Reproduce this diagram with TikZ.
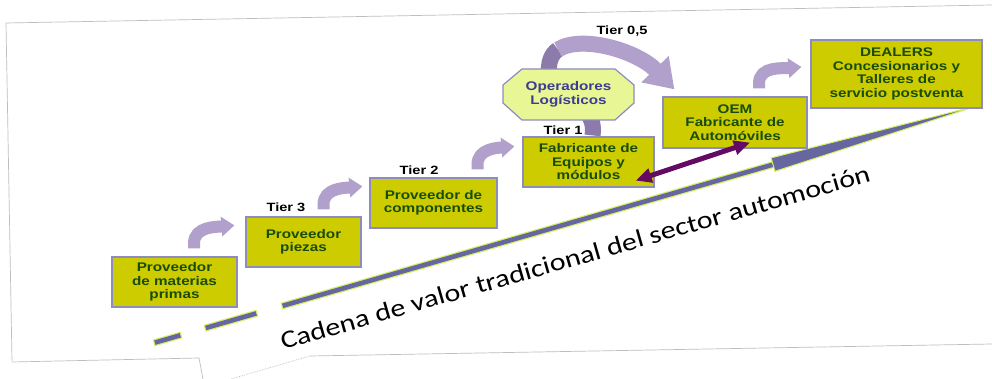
\documentclass[tikz,border=0pt]{standalone}
\usepackage{fontspec}
\usepackage{tikz}
\usetikzlibrary{arrows.meta,calc}

\newfontfamily\boxfont{Liberation Sans}[FakeStretch=1.22]
\newfontfamily\chainfont{Carlito}[FakeStretch=1.2]

\definecolor{boxfill}{RGB}{204,204,0}
\definecolor{boxline}{RGB}{140,140,190}
\definecolor{boxtext}{RGB}{25,75,10}
\definecolor{octofill}{RGB}{232,246,150}
\definecolor{octotext}{RGB}{60,60,145}
\definecolor{lavender}{RGB}{178,160,204}
\definecolor{lavdark}{RGB}{140,122,170}
\definecolor{chain}{RGB}{102,102,160}
\definecolor{glow}{RGB}{214,240,100}
\definecolor{plum}{RGB}{100,10,100}
\definecolor{pageedge}{RGB}{190,190,190}

\tikzset{
	stage/.style={draw=boxline,line width=1.2pt,fill=boxfill,text=boxtext,align=center,inner sep=0pt,
		font=\boxfont\bfseries\fontsize{12.5}{13.5}\selectfont},
	tier/.style={font=\boxfont\bfseries\fontsize{12}{13}\selectfont},
	steparrow/.style={draw=lavender,line width=12pt,-{Triangle[width=19pt,length=13pt]}},
	ribbon/.style={draw=lavender,line width=16pt},
	sheet/.style={draw=pageedge,line width=0.7pt}
}

\begin{document}
\begin{tikzpicture}[x=1pt,y=1pt]
		\useasboundingbox (0,0) rectangle (992,379);
		\fill[white] (0,0) rectangle (992,379);
		% sheet edges
		\draw[sheet] (12,18) -- (6,356) -- (992,374);
		\draw[sheet] (12,17) -- (199,21) -- (203,0);
		\draw[sheet,densely dotted] (231,0) -- (310,23);
		\draw[sheet] (310,23) -- (992,35);
		% value chain line
		\coordinate (cs) at (157,37);
		\coordinate (ce) at (980,274);
		\coordinate (wb) at ($(cs)!0.7485!(ce)$);
		\draw[glow,line width=7pt,line cap=rect,dash pattern=on 22pt off 31pt on 48pt off 32pt on 1000pt] (cs) -- (wb);
		\draw[chain,line width=4.6pt,line cap=rect,dash pattern=on 22pt off 31pt on 48pt off 32pt on 1000pt] (cs) -- (wb);
		\filldraw[fill=chain,draw=glow,line width=1pt] ($(wb)!7pt!90:(ce)$) -- (ce) -- ($(wb)!7pt!-90:(ce)$) -- cycle;
		\draw (577.5,113.5) node (chaintext) [anchor=base,rotate=16,font=\chainfont\fontsize{25}{30}\selectfont] {Cadena de valor tradicional del sector automoción};
		% boxes
		\draw (174.5,97) node (b1) [stage,minimum width=125pt,minimum height=50pt] {Proveedor\\de materias\\primas};
		\draw (303.5,137) node (b2) [stage,minimum width=115pt,minimum height=50pt] {Proveedor\\piezas};
		\draw (433.5,176) node (b3) [stage,minimum width=127pt,minimum height=50pt] {Proveedor de\\componentes};
		\draw (588.5,217) node (b4) [stage,minimum width=131pt,minimum height=50pt] {Fabricante de\\Equipos y\\módulos};
		\draw (735,256.5) node (b5) [stage,minimum width=144pt,minimum height=51pt] {OEM\\Fabricante de\\Automóviles};
		\draw (896.5,305) node (b6) [stage,minimum width=171pt,minimum height=68pt] {DEALERS\\Concesionarios y\\Talleres de\\servicio postventa};
		% tier 0,5 ribbon
		\draw[ribbon,draw=lavdark] ($(b4.north)+(4,1)$) .. controls (598,280) and (549,280) .. (549,305)
			.. controls (548,316) and (551,325) .. (558,329.5);
		\draw[ribbon,-{Triangle[width=36pt,length=28pt]}] (558,329.5) .. controls (582,344.5) and (637.5,328) .. ($(b5.north west)+(12,7)$);
		\filldraw[fill=octofill,draw=boxline,line width=1.2pt] (522,310) -- (615,310) -- (634,294) -- (634,276)
			-- (615,259) -- (522,259) -- (503,276) -- (503,294) -- cycle;
		\draw (568.5,284.5) node (ol) [align=center,text=octotext,font=\boxfont\bfseries\fontsize{12.5}{13.5}\selectfont] {Operadores\\Logísticos};
		% step arrows
		\draw[steparrow] ($(b1.north)+(19.5,8)$) -- ++(0,5) to[out=90,in=185] ($(b2.north west)+(-11,-9)$);
		\draw[steparrow] ($(b2.north)+(20,7)$) -- ++(0,5) to[out=90,in=185] ($(b3.north west)+(-7,-9)$);
		\draw[steparrow] ($(b3.north)+(44,8)$) -- ++(0,5) to[out=90,in=185] ($(b4.north west)+(-8,-10)$);
		\draw[steparrow] ($(b5.north)+(24,8)$) -- ++(0,5) to[out=90,in=185] ($(b6.west)+(-9,7)$);
		% oem link
		\draw[plum,line width=5pt,{Triangle[width=14pt,length=16pt]}-{Triangle[width=14pt,length=16pt]}] ($(b4.south east)+(-19,7)$) -- ($(b5.south)+(15,6)$);
		% tiers
		\draw (286,172) node (t3) [tier] {Tier 3};
		\draw (419,209) node (t2) [tier] {Tier 2};
		\draw (563,249) node (t1) [tier] {Tier 1};
		\draw (622,348) node (t05) [tier] {Tier 0,5};
	\end{tikzpicture}
\end{document}
